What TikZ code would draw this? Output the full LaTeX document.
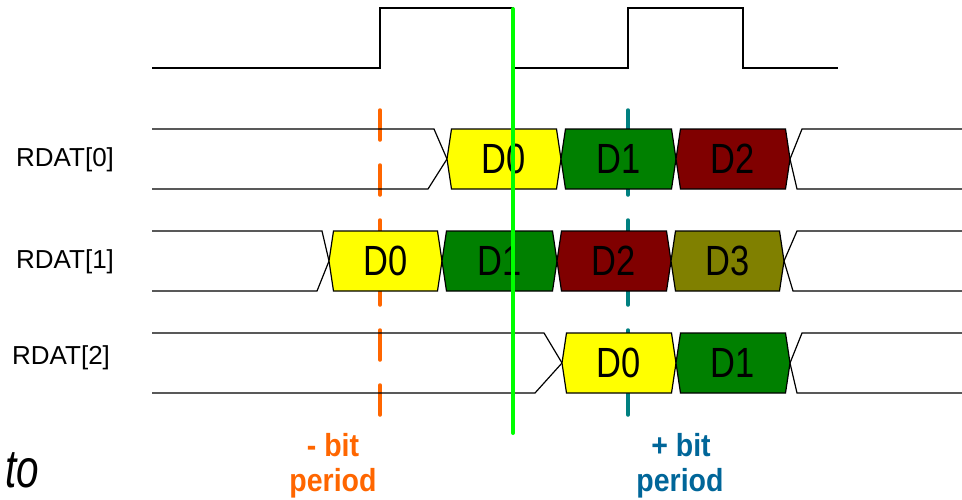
\documentclass[tikz,border=0pt]{standalone}
\usepackage{graphicx}
\usepackage{fontspec}
\setmainfont{Liberation Sans}

\definecolor{cellyellow}{RGB}{255,255,0}
\definecolor{cellgreen}{RGB}{0,128,0}
\definecolor{cellred}{RGB}{128,0,0}
\definecolor{cellolive}{RGB}{128,128,0}
\definecolor{earlyline}{RGB}{255,102,0}
\definecolor{lateline}{RGB}{0,128,128}
\definecolor{latetext}{RGB}{0,102,153}
\definecolor{sampleline}{RGB}{0,255,0}

% one data bit: name, left point, right point, middle y, fill, label
\newcommand\datacell[6]{%
  \filldraw[cellbox, fill=#5] (#2,#4) -- (#2+4.5,#4-30) -- (#3-4.5,#4-30)
    -- (#3,#4) -- (#3-4.5,#4+30) -- (#2+4.5,#4+30) -- cycle;
  \node[celltext] (#1) at ({(#2+#3)/2},#4) {\scalebox{0.84}[1.03]{#6}};
}

\begin{document}
\begin{tikzpicture}[x=1pt, y=-1pt,
  sig/.style={line width=1.2pt, black, line join=miter},
  cellbox/.style={line width=1.2pt, draw=black},
  celltext/.style={inner sep=0pt, font=\fontsize{41}{41}\selectfont},
  clk/.style={line width=1.6pt, black},
  rowlabel/.style={inner sep=0pt, anchor=west, font=\fontsize{26}{26}\selectfont},
  marker/.style={line width=3.5pt, line cap=round, dash pattern=on 30pt off 25pt},
  note/.style={inner sep=0pt, anchor=base, font=\fontsize{28.5}{28.5}\selectfont\bfseries}]

\useasboundingbox (0,0) rectangle (962,499);

% clock
\draw[clk] (152,68) -- (380,68) -- (380,8) -- (513,8) -- (513,68) -- (628,68)
  -- (628,8) -- (743,8) -- (743,68) -- (838,68);

% early / late sampling markers (behind the data)
\coordinate (e1) at (380,110); \coordinate (e2) at (380,415);
\coordinate (l1) at (628,110); \coordinate (l2) at (628,415);
\draw[marker, earlyline] (e1) -- (e2);
\draw[marker, lateline] (l1) -- (l2);

% RDAT[0]
\draw[sig] (152,129) -- (434,129) -- (447,159) -- (428,189) -- (152,189);
\datacell{a0}{447}{561}{159}{cellyellow}{D0}
\datacell{a1}{561}{676}{159}{cellgreen}{D1}
\datacell{a2}{676}{790}{159}{cellred}{D2}
\draw[sig] (962,129) -- (802,129) -- (790,159) -- (797,189) -- (962,189);

% RDAT[1]
\draw[sig] (152,231) -- (322,231) -- (329,261) -- (317,291) -- (152,291);
\datacell{b0}{329}{442}{261}{cellyellow}{D0}
\datacell{b1}{442}{557}{261}{cellgreen}{D1}
\datacell{b2}{557}{671}{261}{cellred}{D2}
\datacell{b3}{671}{784}{261}{cellolive}{D3}
\draw[sig] (962,231) -- (797,231) -- (784,261) -- (793,291) -- (962,291);

% RDAT[2]
\draw[sig] (152,333) -- (544,333) -- (562,363) -- (535,393) -- (152,393);
\datacell{c0}{562}{676}{363}{cellyellow}{D0}
\datacell{c1}{676}{790}{363}{cellgreen}{D1}
\draw[sig] (962,333) -- (802,333) -- (790,363) -- (797,393) -- (962,393);

% row names
\node[rowlabel] (n0) at (16,160) {RDAT[0]};
\node[rowlabel] (n1) at (16,262) {RDAT[1]};
\node[rowlabel] (n2) at (12,358) {RDAT[2]};

% sampling point
\coordinate (s1) at (513,9); \coordinate (s2) at (513,433);
\draw[line width=4pt, line cap=round, sampleline] (s1) -- (s2);

% notes
\node[note, earlyline] (m1) at (333,456) {\scalebox{1}[1.12]{- bit}};
\node[note, earlyline] (m2) at (333,491) {\scalebox{1}[1.12]{period}};
\node[note, latetext] (p1) at (681,456) {\scalebox{1}[1.12]{+ bit}};
\node[note, latetext] (p2) at (680,491) {\scalebox{1}[1.12]{period}};
\node[inner sep=0pt, anchor=base west, font=\fontsize{54}{54}\selectfont\itshape] (to) at (5,487) {\scalebox{0.75}[1]{to}};
\end{tikzpicture}
\end{document}
